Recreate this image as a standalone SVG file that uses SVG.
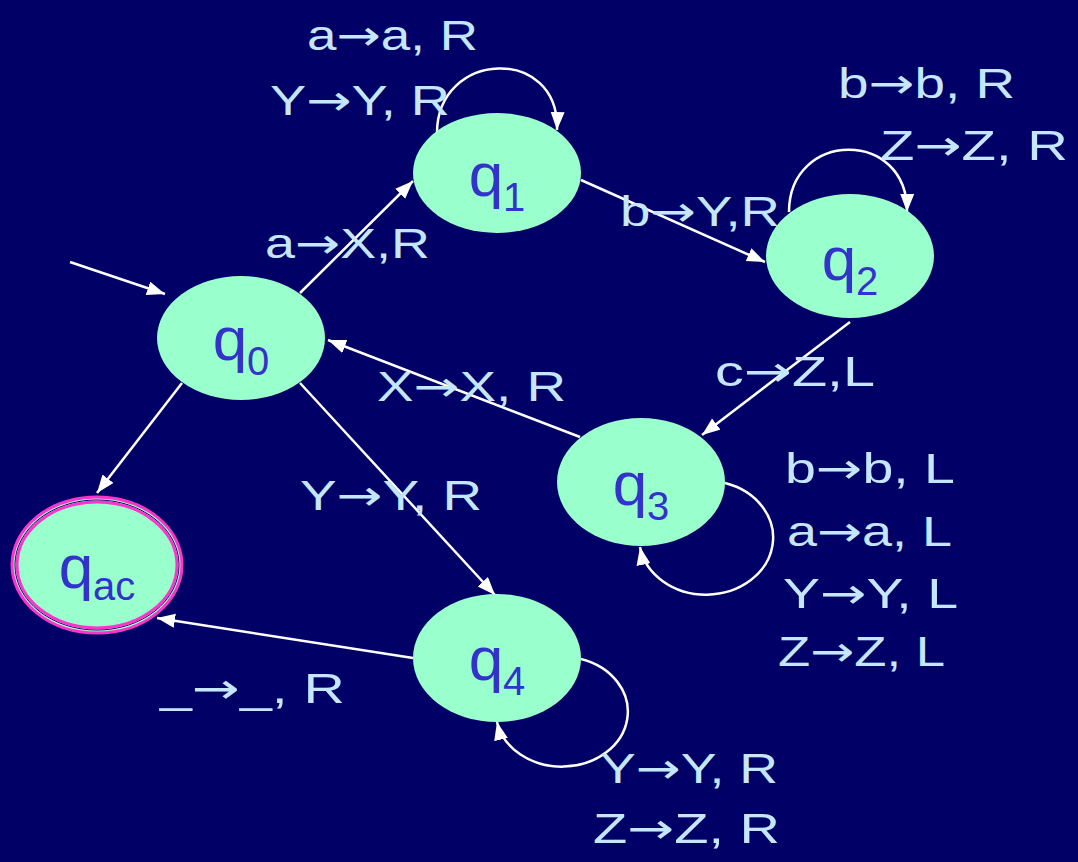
<svg xmlns="http://www.w3.org/2000/svg" width="1078" height="862" viewBox="0 0 1078 862">
<defs>
<marker id="ah" markerUnits="userSpaceOnUse" markerWidth="20" markerHeight="16" refX="18" refY="7" orient="auto">
<path d="M0,0 L18,7 L0,14 z" fill="#ffffff"/>
</marker>
<style>
.node{fill:#99ffcc;}
.lab{font-family:"Liberation Sans",Arial,sans-serif;fill:#3333cc;text-anchor:middle;}
.q{font-size:62px;}
.sub{font-size:40px;}
.edge{fill:none;stroke:#ffffff;stroke-width:2.5;marker-end:url(#ah);}
.t{font-family:"Liberation Sans",Arial,sans-serif;font-size:42px;fill:#c4e6ff;}
.ar{font-family:"DejaVu Sans",sans-serif;}
</style>
</defs>
<rect width="1078" height="862" fill="#000066"/>
<g id="connectors">
<line class="edge" x1="70" y1="262" x2="165" y2="294"/>
<line class="edge" x1="300" y1="293" x2="413" y2="181"/>
<line class="edge" x1="581" y1="180" x2="765" y2="262"/>
<line class="edge" x1="850" y1="322" x2="702" y2="435"/>
<line class="edge" x1="580" y1="437" x2="328" y2="340"/>
<line class="edge" x1="300" y1="383" x2="495" y2="595"/>
<line class="edge" x1="182" y1="383" x2="97" y2="493"/>
<line class="edge" x1="413" y1="658" x2="157" y2="618"/>
<path class="edge" d="M437,133 C437,50 560,45 557,130"/>
<path class="edge" d="M789,212 C789,130 908,128 907,212"/>
<path class="edge" d="M725,483 A67 57 0 1 1 640,547"/>
<path class="edge" d="M581,659 A66 55 0 1 1 497,722"/>
</g>
<g id="labels">
<text class="t" x="307" y="50" textLength="171" lengthAdjust="spacingAndGlyphs">a<tspan class="ar">→</tspan>a, R</text>
<text class="t" x="270" y="115" textLength="180" lengthAdjust="spacingAndGlyphs">Y<tspan class="ar">→</tspan>Y, R</text>
<text class="t" x="838" y="98" textLength="177" lengthAdjust="spacingAndGlyphs">b<tspan class="ar">→</tspan>b, R</text>
<text class="t" x="880" y="160" textLength="188" lengthAdjust="spacingAndGlyphs">Z<tspan class="ar">→</tspan>Z, R</text>
<text class="t" x="620" y="226" textLength="160" lengthAdjust="spacingAndGlyphs">b<tspan class="ar">→</tspan>Y,R</text>
<text class="t" x="265" y="258" textLength="165" lengthAdjust="spacingAndGlyphs">a<tspan class="ar">→</tspan>X,R</text>
<text class="t" x="715" y="386" textLength="160" lengthAdjust="spacingAndGlyphs">c<tspan class="ar">→</tspan>Z,L</text>
<text class="t" x="377" y="401" textLength="189" lengthAdjust="spacingAndGlyphs">X<tspan class="ar">→</tspan>X, R</text>
<text class="t" x="785" y="483" textLength="170" lengthAdjust="spacingAndGlyphs">b<tspan class="ar">→</tspan>b, L</text>
<text class="t" x="787" y="546" textLength="165" lengthAdjust="spacingAndGlyphs">a<tspan class="ar">→</tspan>a, L</text>
<text class="t" x="783" y="608" textLength="175" lengthAdjust="spacingAndGlyphs">Y<tspan class="ar">→</tspan>Y, L</text>
<text class="t" x="778" y="666" textLength="167" lengthAdjust="spacingAndGlyphs">Z<tspan class="ar">→</tspan>Z, L</text>
<text class="t" x="300" y="510" textLength="182" lengthAdjust="spacingAndGlyphs">Y<tspan class="ar">→</tspan>Y, R</text>
<text class="t" x="160" y="703" textLength="185" lengthAdjust="spacingAndGlyphs">_<tspan class="ar">→</tspan>_, R</text>
<text class="t" x="600" y="783" textLength="178" lengthAdjust="spacingAndGlyphs">Y<tspan class="ar">→</tspan>Y, R</text>
<text class="t" x="593" y="843" textLength="187" lengthAdjust="spacingAndGlyphs">Z<tspan class="ar">→</tspan>Z, R</text>
</g>
<g id="q0">
<ellipse class="node" cx="241" cy="338" rx="84" ry="62"/>
<text class="lab" x="241" y="360"><tspan class="q">q</tspan><tspan class="sub" dy="15">0</tspan></text>
</g>
<g id="q1">
<ellipse class="node" cx="497" cy="173" rx="84" ry="60"/>
<text class="lab" x="497" y="196"><tspan class="q">q</tspan><tspan class="sub" dy="15">1</tspan></text>
</g>
<g id="q2">
<ellipse class="node" cx="850" cy="256" rx="84" ry="62"/>
<text class="lab" x="850" y="280"><tspan class="q">q</tspan><tspan class="sub" dy="15">2</tspan></text>
</g>
<g id="q3">
<ellipse class="node" cx="641" cy="482" rx="84" ry="64"/>
<text class="lab" x="641" y="505"><tspan class="q">q</tspan><tspan class="sub" dy="15">3</tspan></text>
</g>
<g id="q4">
<ellipse class="node" cx="497" cy="658" rx="84" ry="64"/>
<text class="lab" x="497" y="680"><tspan class="q">q</tspan><tspan class="sub" dy="15">4</tspan></text>
</g>
<g id="qac">
<ellipse cx="97" cy="565" rx="85" ry="68" fill="#99ffcc" stroke="#ff33cc" stroke-width="3"/>
<ellipse cx="97" cy="565" rx="82" ry="65" fill="none" stroke="#000066" stroke-width="1"/>
<ellipse cx="97" cy="565" rx="80" ry="63" fill="#99ffcc" stroke="#ff33cc" stroke-width="3"/>
<text class="lab" x="97" y="588"><tspan class="q">q</tspan><tspan class="sub" dy="12">ac</tspan></text>
</g>
</svg>
